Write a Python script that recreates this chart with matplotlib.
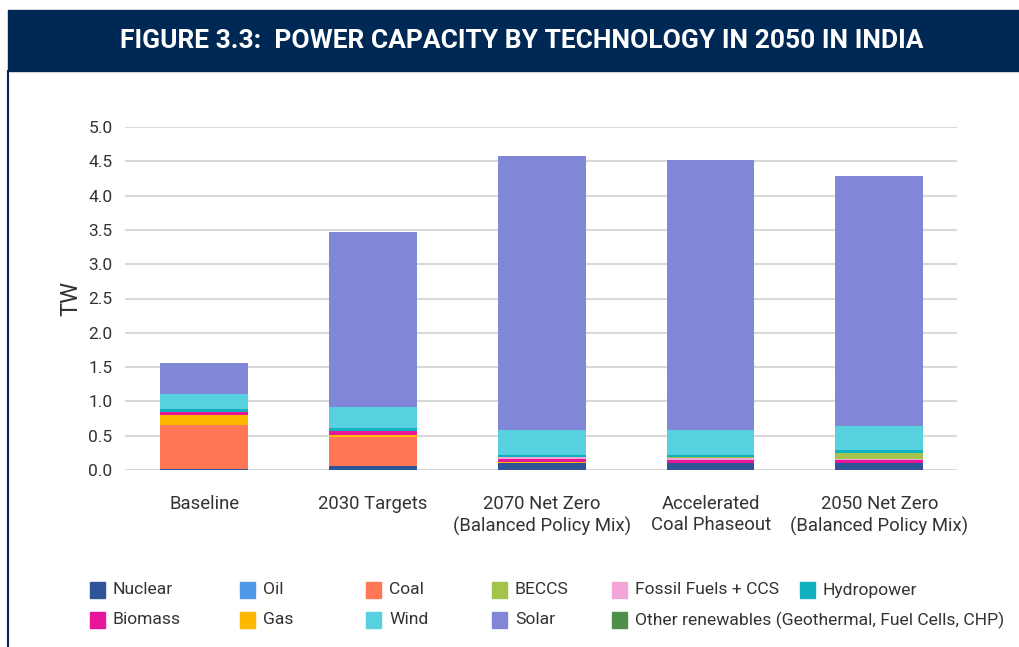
import matplotlib.pyplot as plt
from matplotlib.patches import Rectangle
from matplotlib.lines import Line2D

plt.rcParams['font.family'] = ['Roboto', 'DejaVu Sans']

# Data (TW)
scenarios = ["Baseline", "2030 Targets", "2070 Net Zero\n(Balanced Policy Mix)",
             "Accelerated\nCoal Phaseout", "2050 Net Zero\n(Balanced Policy Mix)"]
nuclear = [0.02, 0.065, 0.105, 0.105, 0.10]
oil = [0.0, 0.0, 0.0, 0.0, 0.0]
coal = [0.64, 0.42, 0.0, 0.0, 0.0]
gas = [0.145, 0.03, 0.015, 0.0, 0.0]
biomass = [0.04, 0.05, 0.04, 0.045, 0.045]
fossil_ccs = [0.0, 0.0, 0.025, 0.03, 0.015]
beccs = [0.0, 0.0, 0.0, 0.015, 0.087]
other_ren = [0.0, 0.0, 0.0, 0.0, 0.0]
hydro = [0.05, 0.05, 0.04, 0.03, 0.044]
wind = [0.22, 0.31, 0.365, 0.365, 0.35]
solar = [0.45, 2.55, 3.98, 3.93, 3.65]

# bottom -> top stacking order
series = [
    ("Nuclear", nuclear, "#2E5597"),
    ("Oil", oil, "#4F98E8"),
    ("Coal", coal, "#FF7755"),
    ("Gas", gas, "#FFB800"),
    ("Biomass", biomass, "#E8179A"),
    ("Fossil Fuels + CCS", fossil_ccs, "#F4A5D8"),
    ("BECCS", beccs, "#A2C44A"),
    ("Other renewables (Geothermal, Fuel Cells, CHP)", other_ren, "#4F8F4A"),
    ("Hydropower", hydro, "#10B0BE"),
    ("Wind", wind, "#57D0E0"),
    ("Solar", solar, "#8087D6"),
]
colors = {name: c for name, _, c in series}

yticks = [0.0, 0.5, 1.0, 1.5, 2.0, 2.5, 3.0, 3.5, 4.0, 4.5, 5.0]

fig = plt.figure(figsize=(10.19, 6.47), dpi=100)
ax = fig.add_axes([125 / 1019, 1 - 470 / 647, 832 / 1019, 343 / 647])

x = list(range(len(scenarios)))
bottom = [0.0] * len(scenarios)
for name, vals, c in series:
    ax.bar(x, vals, width=0.52, bottom=bottom, color=c, zorder=3)
    bottom = [b + v for b, v in zip(bottom, vals)]

ax.set_xlim(-0.47, 4.46)
ax.set_ylim(0, 5.0)
ax.set_yticks(yticks)
ax.set_yticklabels([f"{t:.1f}" for t in yticks], fontsize=12.5, color="#333333")
ax.set_xticks(x)
ax.set_xticklabels(scenarios, fontsize=13.3, color="#333333", linespacing=1.25)
ax.tick_params(axis="both", length=0)
ax.tick_params(axis="x", pad=18)
ax.tick_params(axis="y", pad=9)
ax.grid(axis="y", color="#D9D9D9", linewidth=1.5, zorder=0)
for s in ax.spines.values():
    s.set_visible(False)
ax.set_ylabel("TW", fontsize=17, color="#333333", labelpad=4)

# header band
fig.patches.append(Rectangle((8 / 1019, 1 - 71 / 647), 1 - 8 / 1019, 61 / 647,
                             transform=fig.transFigure, color="#002855", zorder=0))
fig.text(0.512, 1 - 41 / 647, "FIGURE 3.3:  POWER CAPACITY BY TECHNOLOGY IN 2050 IN INDIA",
         ha="center", va="center", color="white", fontsize=19, fontweight="bold")
fig.lines.append(Line2D([8 / 1019, 8 / 1019], [0, 1 - 71 / 647],
                        transform=fig.transFigure, color="#002855", linewidth=1.5))

# legend (manual grid)
legend_rows = [
    [("Nuclear", 90), ("Oil", 240), ("Coal", 366), ("BECCS", 492),
     ("Fossil Fuels + CCS", 612), ("Hydropower", 800)],
    [("Biomass", 90), ("Gas", 240), ("Wind", 366), ("Solar", 492),
     ("Other renewables (Geothermal, Fuel Cells, CHP)", 612)],
]
for r, row in enumerate(legend_rows):
    yc = 590 + r * 30
    for name, px in row:
        fig.patches.append(Rectangle((px / 1019, 1 - (yc + 8) / 647), 15 / 1019, 16 / 647,
                                     transform=fig.transFigure, color=colors[name]))
        fig.text((px + 23) / 1019, 1 - yc / 647, name, ha="left", va="center",
                 fontsize=12.6, color="#333333")

fig.savefig("out.png", dpi=100)
